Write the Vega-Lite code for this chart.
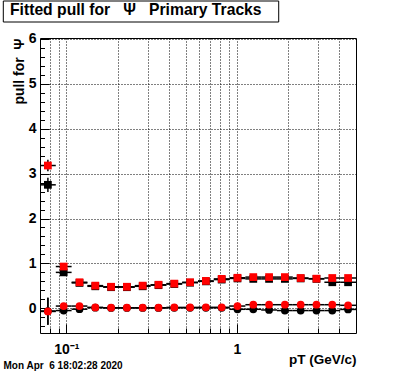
{
  "$schema": "https://vega.github.io/schema/vega-lite/v6.json",
  "autosize": "none",
  "width": 316,
  "height": 295,
  "padding": {"left": 40, "top": 38, "right": 40, "bottom": 39},
  "background": "white",
  "config": {
    "font": "Liberation Sans",
    "view": {"stroke": "black", "strokeWidth": 1},
    "axis": {
      "labelFont": "Liberation Sans", "labelFontWeight": "bold", "labelColor": "black",
      "titleFont": "Liberation Sans", "titleFontWeight": "bold", "titleColor": "black",
      "tickColor": "black", "tickWidth": 1, "gridColor": "black", "gridOpacity": 1,
      "gridDash": [1, 2], "gridWidth": 1, "domain": false
    }
  },
  "title": {"text": "Fitted pull for\u00a0\u00a0\u00a0Ψ\u00a0\u00a0\u00a0Primary Tracks", "orient": "top", "anchor": "start", "frame": "group", "dx": -30, "offset": -30, "baseline": "alphabetic", "fontSize": 15.7, "fontWeight": "bold", "font": "Liberation Sans", "color": "black"},
  "data": {"values": [
    {"s":"A","k":"mean","x":0.07788,"lo":0.07,"hi":0.08665,"y":-0.06,"ylo":-0.36,"yhi":0.24},
    {"s":"A","k":"mean","x":0.09641,"lo":0.08665,"hi":0.10727,"y":-0.05,"ylo":-0.11,"yhi":0.01},
    {"s":"A","k":"mean","x":0.11935,"lo":0.10727,"hi":0.13279,"y":-0.02,"ylo":-0.05,"yhi":0.01},
    {"s":"A","k":"mean","x":0.14774,"lo":0.13279,"hi":0.16438,"y":0.015,"ylo":0.0,"yhi":0.03},
    {"s":"A","k":"mean","x":0.18289,"lo":0.16438,"hi":0.20348,"y":0.008,"ylo":-0.007,"yhi":0.023},
    {"s":"A","k":"mean","x":0.2264,"lo":0.20348,"hi":0.25189,"y":0.008,"ylo":-0.007,"yhi":0.023},
    {"s":"A","k":"mean","x":0.28026,"lo":0.25189,"hi":0.31182,"y":0.008,"ylo":-0.007,"yhi":0.023},
    {"s":"A","k":"mean","x":0.34693,"lo":0.31182,"hi":0.386,"y":0.008,"ylo":-0.007,"yhi":0.023},
    {"s":"A","k":"mean","x":0.42946,"lo":0.386,"hi":0.47783,"y":0.012,"ylo":-0.003,"yhi":0.027},
    {"s":"A","k":"mean","x":0.53163,"lo":0.47783,"hi":0.5915,"y":0.012,"ylo":-0.003,"yhi":0.027},
    {"s":"A","k":"mean","x":0.65811,"lo":0.5915,"hi":0.73222,"y":0.012,"ylo":-0.003,"yhi":0.027},
    {"s":"A","k":"mean","x":0.81467,"lo":0.73222,"hi":0.90641,"y":0.012,"ylo":-0.003,"yhi":0.027},
    {"s":"A","k":"mean","x":1.00848,"lo":0.90641,"hi":1.12205,"y":-0.022,"ylo":-0.037,"yhi":-0.007},
    {"s":"A","k":"mean","x":1.2484,"lo":1.12205,"hi":1.38899,"y":-0.022,"ylo":-0.037,"yhi":-0.007},
    {"s":"A","k":"mean","x":1.5454,"lo":1.38899,"hi":1.71942,"y":-0.037,"ylo":-0.052,"yhi":-0.022},
    {"s":"A","k":"mean","x":1.91305,"lo":1.71942,"hi":2.12848,"y":-0.05,"ylo":-0.065,"yhi":-0.035},
    {"s":"A","k":"mean","x":2.36816,"lo":2.12848,"hi":2.63484,"y":-0.05,"ylo":-0.065,"yhi":-0.035},
    {"s":"A","k":"mean","x":2.93155,"lo":2.63484,"hi":3.26167,"y":-0.05,"ylo":-0.065,"yhi":-0.035},
    {"s":"A","k":"mean","x":3.62897,"lo":3.26167,"hi":4.03762,"y":-0.05,"ylo":-0.065,"yhi":-0.035},
    {"s":"A","k":"mean","x":4.4923,"lo":4.03762,"hi":5.0,"y":-0.025,"ylo":-0.04,"yhi":-0.01},
    {"s":"A","k":"sigma","x":0.07788,"lo":0.07,"hi":0.08665,"y":2.75,"ylo":2.59,"yhi":2.91},
    {"s":"A","k":"sigma","x":0.09641,"lo":0.08665,"hi":0.10727,"y":0.8,"ylo":0.75,"yhi":0.85},
    {"s":"A","k":"sigma","x":0.11935,"lo":0.10727,"hi":0.13279,"y":0.565,"ylo":0.54,"yhi":0.59},
    {"s":"A","k":"sigma","x":0.14774,"lo":0.13279,"hi":0.16438,"y":0.49,"ylo":0.478,"yhi":0.502},
    {"s":"A","k":"sigma","x":0.18289,"lo":0.16438,"hi":0.20348,"y":0.47,"ylo":0.46,"yhi":0.48},
    {"s":"A","k":"sigma","x":0.2264,"lo":0.20348,"hi":0.25189,"y":0.47,"ylo":0.46,"yhi":0.48},
    {"s":"A","k":"sigma","x":0.28026,"lo":0.25189,"hi":0.31182,"y":0.49,"ylo":0.48,"yhi":0.5},
    {"s":"A","k":"sigma","x":0.34693,"lo":0.31182,"hi":0.386,"y":0.515,"ylo":0.505,"yhi":0.525},
    {"s":"A","k":"sigma","x":0.42946,"lo":0.386,"hi":0.47783,"y":0.54,"ylo":0.53,"yhi":0.55},
    {"s":"A","k":"sigma","x":0.53163,"lo":0.47783,"hi":0.5915,"y":0.57,"ylo":0.56,"yhi":0.58},
    {"s":"A","k":"sigma","x":0.65811,"lo":0.5915,"hi":0.73222,"y":0.6,"ylo":0.59,"yhi":0.61},
    {"s":"A","k":"sigma","x":0.81467,"lo":0.73222,"hi":0.90641,"y":0.64,"ylo":0.63,"yhi":0.65},
    {"s":"A","k":"sigma","x":1.00848,"lo":0.90641,"hi":1.12205,"y":0.665,"ylo":0.655,"yhi":0.675},
    {"s":"A","k":"sigma","x":1.2484,"lo":1.12205,"hi":1.38899,"y":0.655,"ylo":0.645,"yhi":0.665},
    {"s":"A","k":"sigma","x":1.5454,"lo":1.38899,"hi":1.71942,"y":0.655,"ylo":0.645,"yhi":0.665},
    {"s":"A","k":"sigma","x":1.91305,"lo":1.71942,"hi":2.12848,"y":0.655,"ylo":0.645,"yhi":0.665},
    {"s":"A","k":"sigma","x":2.36816,"lo":2.12848,"hi":2.63484,"y":0.665,"ylo":0.655,"yhi":0.675},
    {"s":"A","k":"sigma","x":2.93155,"lo":2.63484,"hi":3.26167,"y":0.655,"ylo":0.645,"yhi":0.665},
    {"s":"A","k":"sigma","x":3.62897,"lo":3.26167,"hi":4.03762,"y":0.58,"ylo":0.57,"yhi":0.59},
    {"s":"A","k":"sigma","x":4.4923,"lo":4.03762,"hi":5.0,"y":0.58,"ylo":0.57,"yhi":0.59},
    {"s":"B","k":"mean","x":0.07788,"lo":0.07,"hi":0.08665,"y":-0.07,"ylo":-0.37,"yhi":0.23},
    {"s":"B","k":"mean","x":0.09641,"lo":0.08665,"hi":0.10727,"y":0.05,"ylo":-0.01,"yhi":0.11},
    {"s":"B","k":"mean","x":0.11935,"lo":0.10727,"hi":0.13279,"y":0.05,"ylo":0.02,"yhi":0.08},
    {"s":"B","k":"mean","x":0.14774,"lo":0.13279,"hi":0.16438,"y":0.02,"ylo":0.005,"yhi":0.035},
    {"s":"B","k":"mean","x":0.18289,"lo":0.16438,"hi":0.20348,"y":0.013,"ylo":-0.002,"yhi":0.028},
    {"s":"B","k":"mean","x":0.2264,"lo":0.20348,"hi":0.25189,"y":0.013,"ylo":-0.002,"yhi":0.028},
    {"s":"B","k":"mean","x":0.28026,"lo":0.25189,"hi":0.31182,"y":0.013,"ylo":-0.002,"yhi":0.028},
    {"s":"B","k":"mean","x":0.34693,"lo":0.31182,"hi":0.386,"y":0.013,"ylo":-0.002,"yhi":0.028},
    {"s":"B","k":"mean","x":0.42946,"lo":0.386,"hi":0.47783,"y":0.02,"ylo":0.005,"yhi":0.035},
    {"s":"B","k":"mean","x":0.53163,"lo":0.47783,"hi":0.5915,"y":0.02,"ylo":0.005,"yhi":0.035},
    {"s":"B","k":"mean","x":0.65811,"lo":0.5915,"hi":0.73222,"y":0.022,"ylo":0.007,"yhi":0.037},
    {"s":"B","k":"mean","x":0.81467,"lo":0.73222,"hi":0.90641,"y":0.022,"ylo":0.007,"yhi":0.037},
    {"s":"B","k":"mean","x":1.00848,"lo":0.90641,"hi":1.12205,"y":0.05,"ylo":0.035,"yhi":0.065},
    {"s":"B","k":"mean","x":1.2484,"lo":1.12205,"hi":1.38899,"y":0.08,"ylo":0.065,"yhi":0.095},
    {"s":"B","k":"mean","x":1.5454,"lo":1.38899,"hi":1.71942,"y":0.08,"ylo":0.065,"yhi":0.095},
    {"s":"B","k":"mean","x":1.91305,"lo":1.71942,"hi":2.12848,"y":0.08,"ylo":0.065,"yhi":0.095},
    {"s":"B","k":"mean","x":2.36816,"lo":2.12848,"hi":2.63484,"y":0.08,"ylo":0.065,"yhi":0.095},
    {"s":"B","k":"mean","x":2.93155,"lo":2.63484,"hi":3.26167,"y":0.08,"ylo":0.065,"yhi":0.095},
    {"s":"B","k":"mean","x":3.62897,"lo":3.26167,"hi":4.03762,"y":0.08,"ylo":0.065,"yhi":0.095},
    {"s":"B","k":"mean","x":4.4923,"lo":4.03762,"hi":5.0,"y":0.067,"ylo":0.052,"yhi":0.082},
    {"s":"B","k":"sigma","x":0.07788,"lo":0.07,"hi":0.08665,"y":3.18,"ylo":3.05,"yhi":3.31},
    {"s":"B","k":"sigma","x":0.09641,"lo":0.08665,"hi":0.10727,"y":0.93,"ylo":0.88,"yhi":0.98},
    {"s":"B","k":"sigma","x":0.11935,"lo":0.10727,"hi":0.13279,"y":0.58,"ylo":0.555,"yhi":0.605},
    {"s":"B","k":"sigma","x":0.14774,"lo":0.13279,"hi":0.16438,"y":0.505,"ylo":0.493,"yhi":0.517},
    {"s":"B","k":"sigma","x":0.18289,"lo":0.16438,"hi":0.20348,"y":0.48,"ylo":0.47,"yhi":0.49},
    {"s":"B","k":"sigma","x":0.2264,"lo":0.20348,"hi":0.25189,"y":0.48,"ylo":0.47,"yhi":0.49},
    {"s":"B","k":"sigma","x":0.28026,"lo":0.25189,"hi":0.31182,"y":0.505,"ylo":0.495,"yhi":0.515},
    {"s":"B","k":"sigma","x":0.34693,"lo":0.31182,"hi":0.386,"y":0.525,"ylo":0.515,"yhi":0.535},
    {"s":"B","k":"sigma","x":0.42946,"lo":0.386,"hi":0.47783,"y":0.55,"ylo":0.54,"yhi":0.56},
    {"s":"B","k":"sigma","x":0.53163,"lo":0.47783,"hi":0.5915,"y":0.58,"ylo":0.57,"yhi":0.59},
    {"s":"B","k":"sigma","x":0.65811,"lo":0.5915,"hi":0.73222,"y":0.61,"ylo":0.6,"yhi":0.62},
    {"s":"B","k":"sigma","x":0.81467,"lo":0.73222,"hi":0.90641,"y":0.655,"ylo":0.645,"yhi":0.665},
    {"s":"B","k":"sigma","x":1.00848,"lo":0.90641,"hi":1.12205,"y":0.68,"ylo":0.67,"yhi":0.69},
    {"s":"B","k":"sigma","x":1.2484,"lo":1.12205,"hi":1.38899,"y":0.695,"ylo":0.685,"yhi":0.705},
    {"s":"B","k":"sigma","x":1.5454,"lo":1.38899,"hi":1.71942,"y":0.695,"ylo":0.685,"yhi":0.705},
    {"s":"B","k":"sigma","x":1.91305,"lo":1.71942,"hi":2.12848,"y":0.695,"ylo":0.685,"yhi":0.705},
    {"s":"B","k":"sigma","x":2.36816,"lo":2.12848,"hi":2.63484,"y":0.675,"ylo":0.665,"yhi":0.685},
    {"s":"B","k":"sigma","x":2.93155,"lo":2.63484,"hi":3.26167,"y":0.66,"ylo":0.65,"yhi":0.67},
    {"s":"B","k":"sigma","x":3.62897,"lo":3.26167,"hi":4.03762,"y":0.675,"ylo":0.665,"yhi":0.685},
    {"s":"B","k":"sigma","x":4.4923,"lo":4.03762,"hi":5.0,"y":0.675,"ylo":0.665,"yhi":0.685}
  ]},
  "layer": [
    {
      "data": {"values": [{"box": "title"}]},
      "mark": {"type": "rect", "fill": "transparent", "stroke": "black", "strokeWidth": 1},
      "encoding": {
        "x": {"datum": 0.042638, "type": "quantitative", "axis": null},
        "x2": {"datum": 1.76008},
        "y": {"datum": 6.844, "type": "quantitative", "axis": null},
        "y2": {"datum": 6.3763}
      }
    },
    {
      "mark": {"type": "rule", "color": "black", "strokeWidth": 1.5},
      "encoding": {
        "x": {"field": "lo", "type": "quantitative",
              "scale": {"type": "log", "domain": [0.07, 5], "nice": false},
              "axis": {"orient": "bottom", "values": [0.08, 0.09, 0.2, 0.3, 0.4, 0.5, 0.6, 0.7, 0.8, 0.9, 2, 3, 4],
                       "tickSize": -5, "labels": false, "grid": true,
                       "title": "Mon Apr\u00a0\u00a06 18:02:28 2020", "titleAnchor": "start", "titleAlign": "left",
                       "titleBaseline": "alphabetic", "titleX": -37, "titleY": 35, "titleFontSize": 10}},
        "x2": {"field": "hi"},
        "y": {"field": "y", "type": "quantitative",
              "scale": {"domain": [-0.55, 6.02], "nice": false, "zero": false},
              "axis": {"orient": "left", "values": [-0.4, -0.2, 0.2, 0.4, 0.6, 0.8, 1.2, 1.4, 1.6, 1.8, 2.2, 2.4, 2.6, 2.8, 3.2, 3.4, 3.6, 3.8, 4.2, 4.4, 4.6, 4.8, 5.2, 5.4, 5.6, 5.8],
                       "tickSize": -4.5, "labels": false, "grid": false, "title": null}}
      }
    },
    {
      "mark": {"type": "rule", "color": "black", "strokeWidth": 1.5},
      "encoding": {
        "x": {"field": "x", "type": "quantitative",
              "axis": {"orient": "bottom", "values": [0.1, 1], "tickSize": -9, "grid": true,
                       "labelExpr": "datum.value < 0.5 ? '10⁻¹' : '1'", "labelFontSize": 14,
                       "labelPadding": 18, "labelFlush": false,
                       "title": "pT (GeV/c)", "titleAnchor": "end", "titleFontSize": 13.5, "titlePadding": -4}},
        "y": {"field": "ylo", "type": "quantitative",
              "axis": {"orient": "left", "values": [0, 1, 2, 3, 4, 5, 6], "tickSize": -9, "grid": true,
                       "labelFontSize": 14, "labelPadding": 13,
                       "title": "pull for\u00a0\u00a0Ψ", "titleAnchor": "end", "titleFontSize": 13.9, "titlePadding": 2}},
        "y2": {"field": "yhi"}
      }
    },
    {
      "mark": {"type": "point", "filled": true, "size": 60, "opacity": 1},
      "encoding": {
        "x": {"field": "x", "type": "quantitative", "axis": null},
        "y": {"field": "y", "type": "quantitative", "axis": null},
        "color": {"field": "s", "type": "nominal", "scale": {"domain": ["A", "B"], "range": ["#000000", "#ff0000"]}, "legend": null},
        "shape": {"field": "k", "type": "nominal", "scale": {"domain": ["mean", "sigma"], "range": ["circle", "square"]}, "legend": null}
      }
    }
  ],
  "resolve": {"scale": {"x": "shared", "y": "shared"}, "axis": {"x": "independent", "y": "independent"}}
}
